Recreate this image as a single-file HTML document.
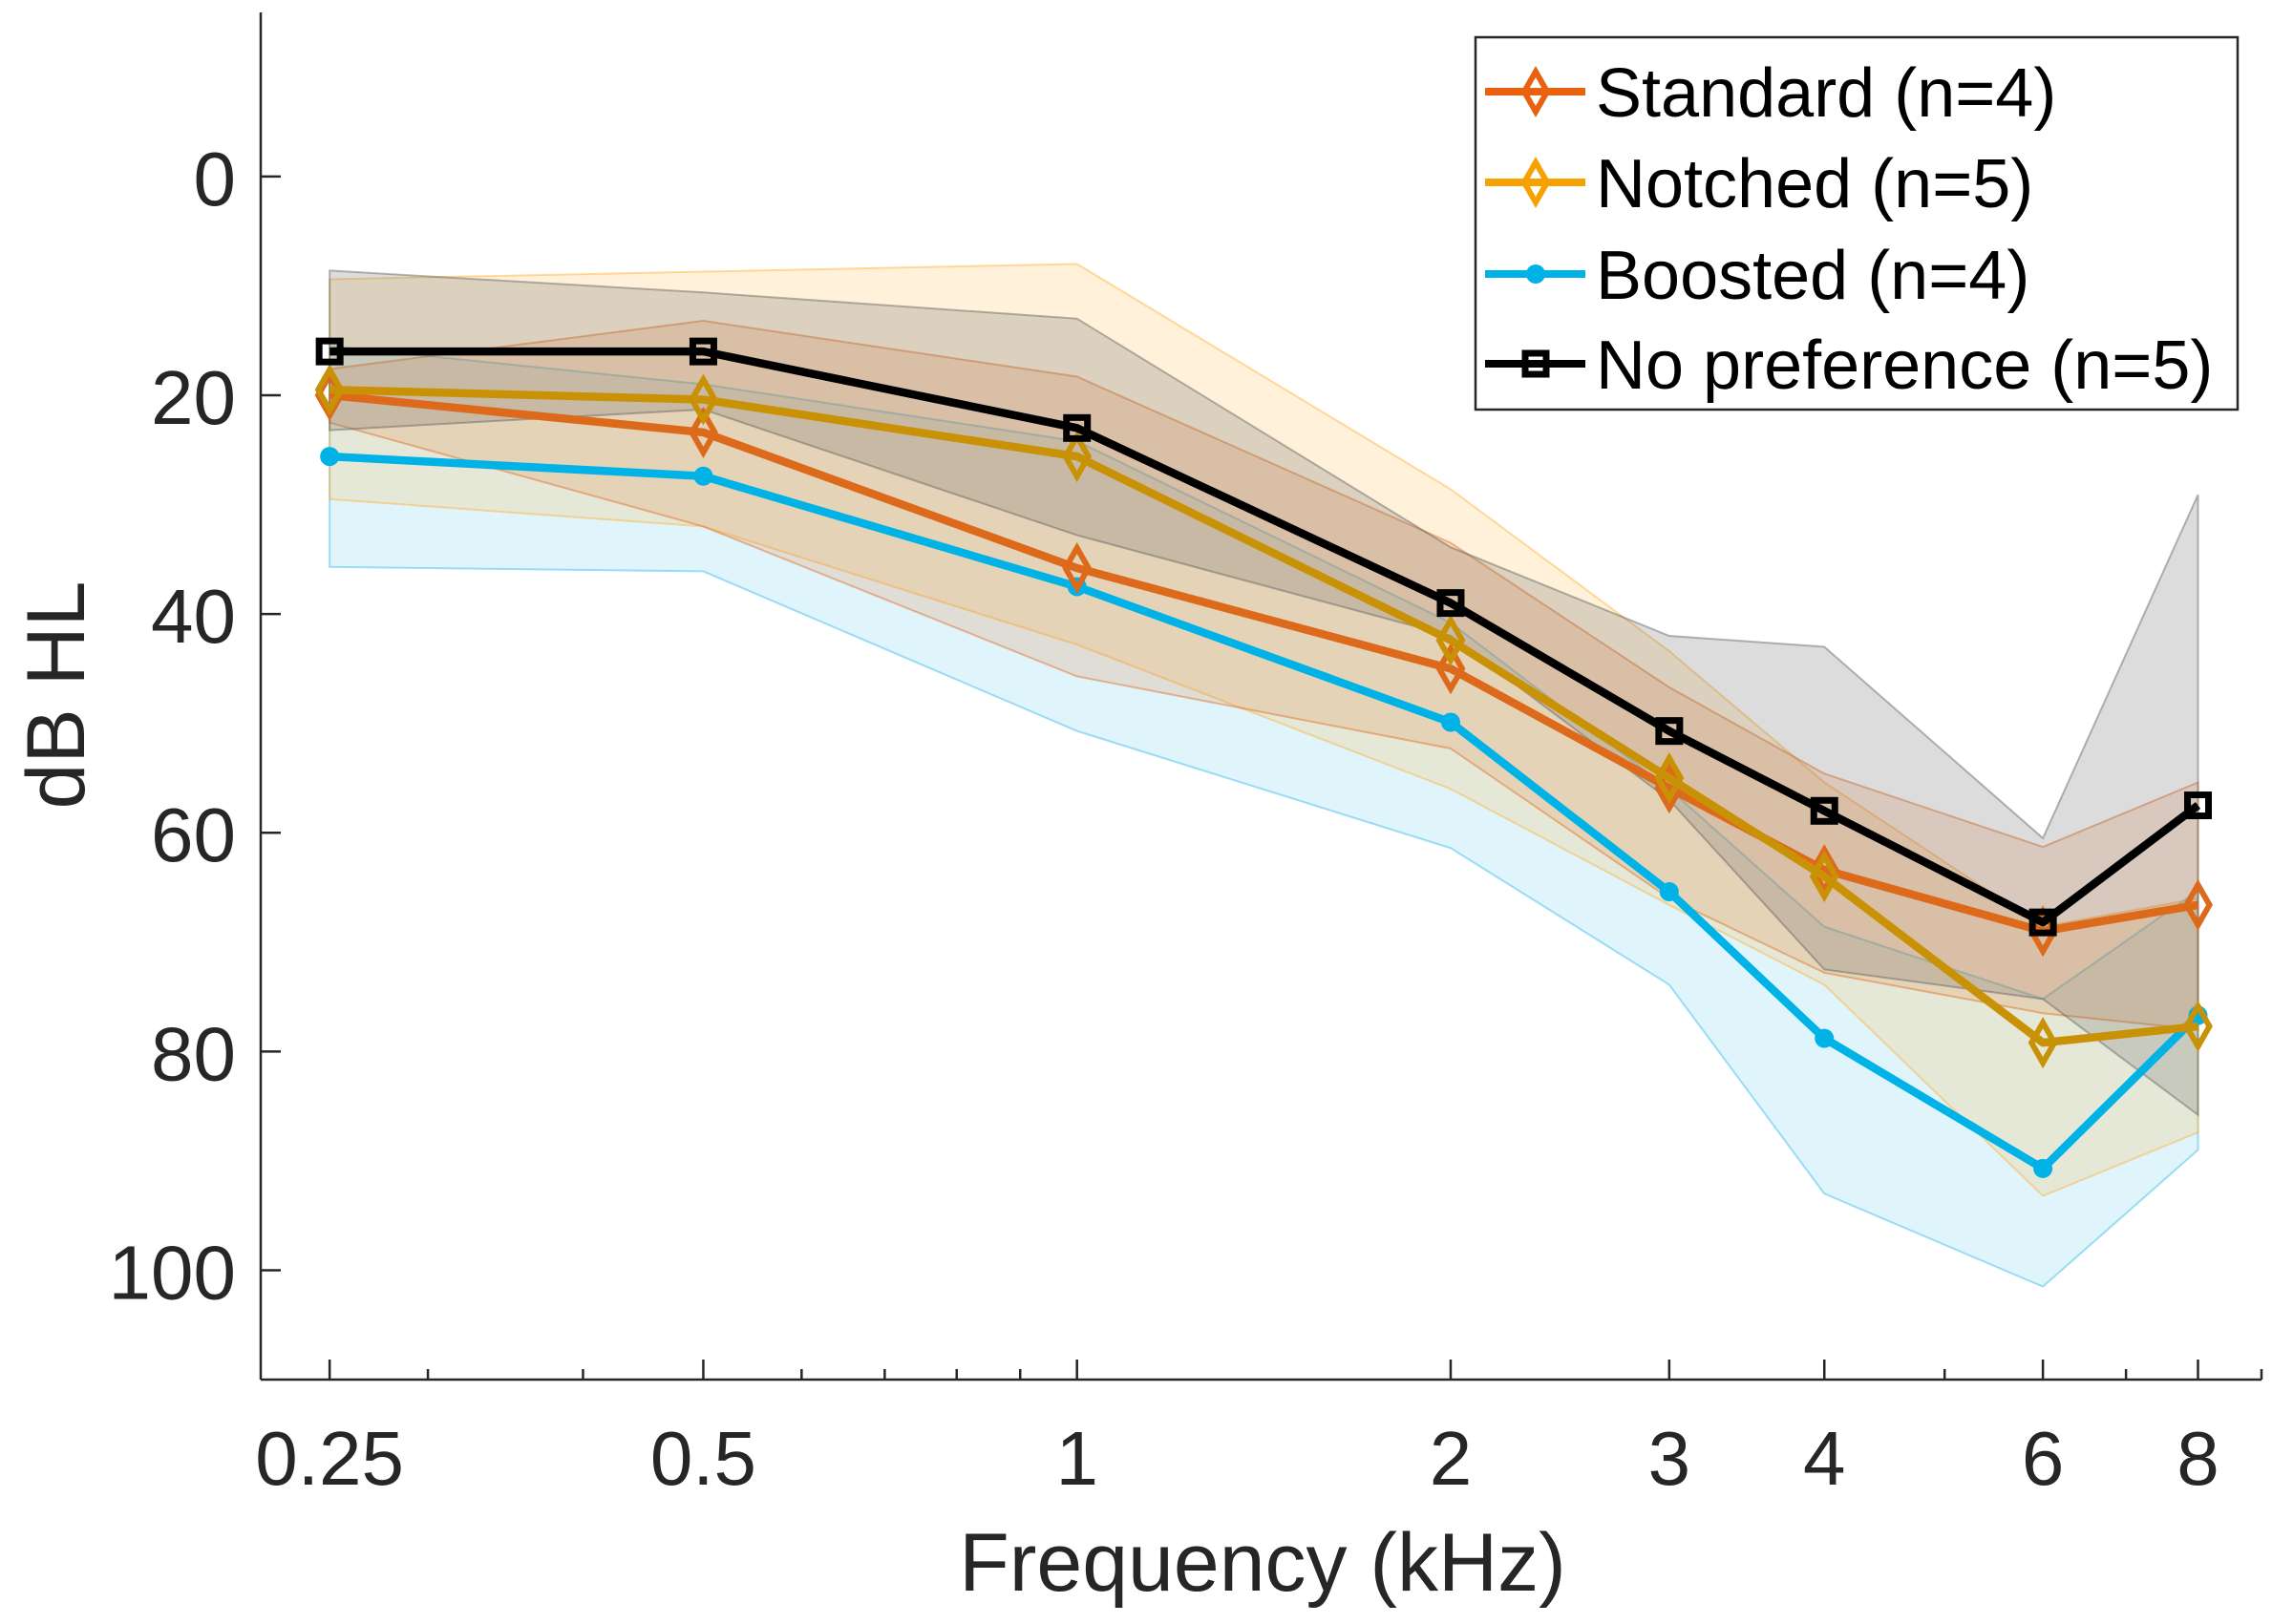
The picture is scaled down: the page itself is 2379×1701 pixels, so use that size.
<!DOCTYPE html>
<html><head><meta charset="utf-8">
<style>
html,body{margin:0;padding:0;background:#fff;}
svg{display:block;font-family:"Liberation Sans",Arial,sans-serif;}
</style></head>
<body>
<svg id="chart" width="2379" height="1701" viewBox="0 0 2379 1701" xmlns="http://www.w3.org/2000/svg">
  <rect x="0" y="0" width="2379" height="1701" fill="#fff"/>
  <g id="bands"></g>
  <g id="lines"></g>
  <g id="axes"></g>
  <text x="1322" y="1666" font-size="86" fill="#262626" text-anchor="middle">Frequency (kHz)</text>
  <text transform="translate(88,728) rotate(-90)" font-size="86" fill="#262626" text-anchor="middle">dB HL</text>
  <g id="legend"></g>
</svg>
<script>
const freqs = [0.25, 0.5, 1, 2, 3, 4, 6, 8];
const xTickLabels = ["0.25", "0.5", "1", "2", "3", "4", "6", "8"];
const xMinorTicks = [0.3, 0.4, 0.6, 0.7, 0.8, 0.9, 5, 7, 9];
const yTicks = [0, 20, 40, 60, 80, 100];
const seriesNames = ["Standard (n=4)", "Notched (n=5)", "Boosted (n=4)", "No preference (n=5)"];
const standardMean = [20, 23.4, 35.8, 45, 55.9, 63.4, 69, 66.6];
const notchedMean = [19.5, 20.4, 25.6, 42.4, 55, 64, 79.2, 77.7];
const boostedMean = [25.6, 27.4, 37.5, 49.9, 65.4, 78.8, 90.7, 76.7];
const noprefMean = [16, 16, 23, 39, 50.7, 58, 68.2, 57.5];
const standardUpper = [17.6, 13.2, 18.3, 33.5, 46.7, 54.6, 61.3, 55.4];
const standardLower = [22.5, 32, 45.7, 52.3, 66, 72.8, 76.5, 78];
const notchedUpper = [9.4, 8.7, 8, 28.6, 43.4, 55.4, 68.6, 66];
const notchedLower = [29.5, 32, 42.8, 56, 66.6, 73.9, 93.2, 87.4];
const boostedUpper = [15.5, 19, 24.2, 40.8, 56, 68.6, 75.2, 65.3];
const boostedLower = [35.7, 36.1, 50.7, 61.4, 73.9, 93, 101.5, 89];
const noprefUpper = [8.6, 10.6, 13, 33.9, 42, 43, 60.5, 29.1];
const noprefLower = [23.2, 21.3, 32.8, 42, 57, 72.5, 75.2, 85.8];

const NS = "http://www.w3.org/2000/svg";
const X0 = 273, X1 = 2368, Y0 = 13, Y1 = 1445;
const xMin = 0.22, xMax = 9, yMin = -15, yMax = 110;
function xScale(f){ return X0 + (Math.log(f) - Math.log(xMin)) / (Math.log(xMax) - Math.log(xMin)) * (X1 - X0); }
function yScale(v){ return Y0 + (v - yMin) / (yMax - yMin) * (Y1 - Y0); }
function mk(tag, attrs, parent){ const e = document.createElementNS(NS, tag); for (const k in attrs) e.setAttribute(k, attrs[k]); parent.appendChild(e); return e; }

const series = [
  {key:"standard", mean:standardMean, up:standardUpper, lo:standardLower, line:"#DC6A1A", leg:"#E8620F", fill:"#E06A20", fa:0.17, marker:"diamond"},
  {key:"notched", mean:notchedMean, up:notchedUpper, lo:notchedLower, line:"#C99206", leg:"#F5A200", fill:"#FFB030", fa:0.18, marker:"diamond"},
  {key:"boosted", mean:boostedMean, up:boostedUpper, lo:boostedLower, line:"#00B2E6", leg:"#00B2E6", fill:"#30B8EC", fa:0.15, marker:"circle"},
  {key:"nopref", mean:noprefMean, up:noprefUpper, lo:noprefLower, line:"#000000", leg:"#000000", fill:"#606060", fa:0.22, marker:"square"}
];

const bands = document.getElementById('bands');
const order = [2, 1, 0, 3];
order.forEach(i => {
  const s = series[i];
  const pts = freqs.map((f,j) => xScale(f)+","+yScale(s.up[j]))
    .concat(freqs.slice().reverse().map((f,jj) => { const j = freqs.length-1-jj; return xScale(f)+","+yScale(s.lo[j]); }));
  const p = mk('polygon', {points: pts.join(' '), fill: s.fill, 'fill-opacity': s.fa, stroke: s.fill, 'stroke-opacity': 0.45, 'stroke-width': 2}, bands);
  
  
});

function drawMarker(g, type, cx, cy, color, scale){
  let m;
  if (type === "diamond") {
    m = mk('polygon', {points: `${cx},${cy-21*scale} ${cx+12*scale},${cy} ${cx},${cy+21*scale} ${cx-12*scale},${cy}`, fill:'none', stroke:color, 'stroke-width':6}, g);
  } else if (type === "circle") {
    m = mk('circle', {cx:cx, cy:cy, r:10*scale, fill:color}, g);
  } else {
    m = mk('rect', {x:cx-11*scale, y:cy-11*scale, width:22*scale, height:22*scale, fill:'none', stroke:color, 'stroke-width':7}, g);
  }
  return m;
}

const lines = document.getElementById('lines');
[2, 0, 1, 3].forEach(i => {
  const s = series[i];
  const g = mk('g', {}, lines);
  
  
  const pl = mk('polyline', {points: freqs.map((f,j)=>xScale(f)+","+yScale(s.mean[j])).join(' '), fill:'none', stroke:s.line, 'stroke-width':8.5, 'stroke-linejoin':'round'}, g);
  
  
  freqs.forEach((f,j) => {
    const m = drawMarker(g, s.marker, xScale(f), yScale(s.mean[j]), s.line, 1);
    
    
  });
});

const axes = document.getElementById('axes');
const ax = '#262626';
const yl = mk('line', {x1:X0, y1:Y0, x2:X0, y2:Y1, stroke:ax, 'stroke-width':2.5}, axes);


const xl = mk('line', {x1:X0, y1:Y1, x2:X1, y2:Y1, stroke:ax, 'stroke-width':2.5}, axes);


yTicks.forEach(v => {
  const y = yScale(v);
  const t = mk('line', {x1:X0, y1:y, x2:X0+21, y2:y, stroke:ax, 'stroke-width':2.5}, axes);
  
  
  const l = mk('text', {x:247, y:y+30, 'font-size':80, fill:ax, 'text-anchor':'end'}, axes);
  l.textContent = String(v);
  
  
});
freqs.forEach((f,j) => {
  const x = xScale(f);
  const t = mk('line', {x1:x, y1:Y1, x2:x, y2:Y1-21, stroke:ax, 'stroke-width':2.5}, axes);
  
  
  const l = mk('text', {x:x, y:1555, 'font-size':80, fill:ax, 'text-anchor':'middle'}, axes);
  l.textContent = xTickLabels[j];
  
  
});
xMinorTicks.forEach(f => {
  const x = xScale(f);
  const t = mk('line', {x1:x, y1:Y1, x2:x, y2:Y1-11, stroke:ax, 'stroke-width':2.5}, axes);
  
  
});

const legend = document.getElementById('legend');
const box = mk('rect', {x:1545, y:39, width:798, height:390, fill:'#fff', stroke:'#262626', 'stroke-width':2.5}, legend);


const rowY = [96, 191, 287, 381];
series.forEach((s,i) => {
  const g = mk('g', {}, legend);
  
  
  mk('line', {x1:1555, y1:rowY[i], x2:1660, y2:rowY[i], stroke:s.leg, 'stroke-width':8}, g);
  drawMarker(g, s.marker, 1608, rowY[i], s.leg, 1);
  const t = mk('text', {x:1671, y:rowY[i]+26, 'font-size':72, fill:'#000'}, g);
  t.textContent = seriesNames[i];
});
</script>
</body></html>
